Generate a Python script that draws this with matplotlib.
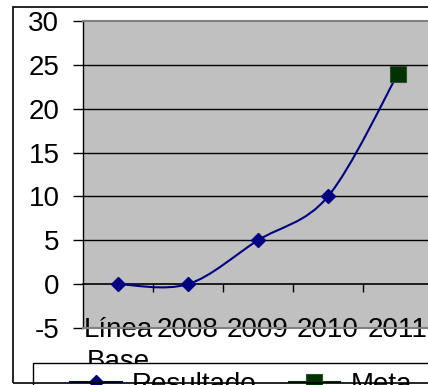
import numpy as np
import matplotlib
matplotlib.use("Agg")
import matplotlib.pyplot as plt
from matplotlib.path import Path
from matplotlib.patches import PathPatch, Rectangle
from matplotlib.lines import Line2D
from matplotlib.transforms import blended_transform_factory

# ---------- Data -------------------------------------------------------------

categories = ["Línea\nBase", "2008", "2009", "2010", "2011"]
resultado = [0, 0, 5, 10, 24]
meta = [np.nan, np.nan, np.nan, np.nan, 24]
y_ticks = [-5, 0, 5, 10, 15, 20, 25, 30]

NAVY = "#000080"
GREEN = "#003300"
GRAY = "#808080"

W, H = 428, 385   # figure size in px


def smooth_path(xs, ys):
    """Excel-like smoothed line as cubic Bezier segments (Catmull-Rom)."""
    pts = np.column_stack([xs, ys]).astype(float)
    n = len(pts)
    verts, codes = [pts[0]], [Path.MOVETO]
    for i in range(n - 1):
        p0 = pts[max(i - 1, 0)]
        p1 = pts[i]
        p2 = pts[i + 1]
        p3 = pts[min(i + 2, n - 1)]
        verts += [p1 + (p2 - p0) / 6, p2 - (p3 - p1) / 6, p2]
        codes += [Path.CURVE4] * 3
    return Path(verts, codes)


plt.rcParams["font.family"] = ["Liberation Sans", "DejaVu Sans"]
plt.rcParams["font.size"] = 20
plt.rcParams["axes.unicode_minus"] = False

fig = plt.figure(figsize=(W / 100, H / 100), dpi=100)
ax = fig.add_axes([83 / W, 1 - 328 / H, 350 / W, 307 / H])
ax.set_facecolor("#C0C0C0")

x = np.arange(len(categories))
ax.set_xlim(-0.5, len(categories) - 0.5)
ax.set_ylim(-5, 30)

# gridlines
for yv in y_ticks[2:-1]:
    ax.axhline(yv, color="black", lw=1.0, zorder=1.5)

# series
ax.add_patch(PathPatch(smooth_path(x, resultado), fill=False,
                       edgecolor=NAVY, lw=1.5, zorder=3))
ax.plot(x, resultado, ls="none", marker="D", ms=7.5, color=NAVY, zorder=4)
ax.plot(x, meta, ls="none", marker="s", ms=11.5, color=GREEN,
        markeredgecolor="#2b4f2b", markeredgewidth=0.8, zorder=5)

# axes styling
ax.spines["right"].set_visible(False)
ax.spines["top"].set_color(GRAY)
ax.spines["top"].set_linewidth(1.5)
ax.spines["left"].set_color("black")
ax.spines["left"].set_linewidth(1.0)
ax.spines["bottom"].set_position(("data", 0))
ax.spines["bottom"].set_linewidth(1.2)
ax.axhline(-5, color=GRAY, lw=1.5, zorder=2.6, clip_on=False)

ax.set_yticks(y_ticks)
ax.tick_params(axis="y", direction="out", length=7, width=1.0, pad=10)
ax.set_xticks(x[:-1] + 0.5)
ax.set_xticklabels([])
ax.tick_params(axis="x", direction="out", length=6, width=1.0)

# category labels
trans = blended_transform_factory(ax.transData, ax.transAxes)
for xi, lab in zip(x, categories):
    ax.text(xi, 11 / 307, lab, transform=trans, ha="center", va="top",
            linespacing=1.3, clip_on=False, zorder=1)

# legend box + legend
fig.add_artist(Rectangle((33 / W, 1 - 420 / H), 500 / W, 57 / H,
                         transform=fig.transFigure, facecolor="white",
                         edgecolor="black", lw=1.0, zorder=4))
handles = [
    Line2D([], [], color=NAVY, lw=1.5, marker="D", ms=7.5),
    Line2D([], [], color=GREEN, lw=1.5, marker="s", ms=11.5,
           markeredgecolor="#2b4f2b", markeredgewidth=0.8),
]
fig.legend(handles, ["Resultado", "Meta"], loc="upper left",
           bbox_to_anchor=(70 / W, 1 - 372 / H), ncol=2, frameon=False,
           borderpad=0, borderaxespad=0, handlelength=1.87,
           handletextpad=0.36, columnspacing=1.15, fontsize=20)

# outer chart border
fig.add_artist(Rectangle((13 / W, 1 - 383 / H), 440 / W, 376 / H,
                         transform=fig.transFigure, fill=False,
                         edgecolor="black", lw=1.2, zorder=10))

fig.savefig("out.png", dpi=100)
